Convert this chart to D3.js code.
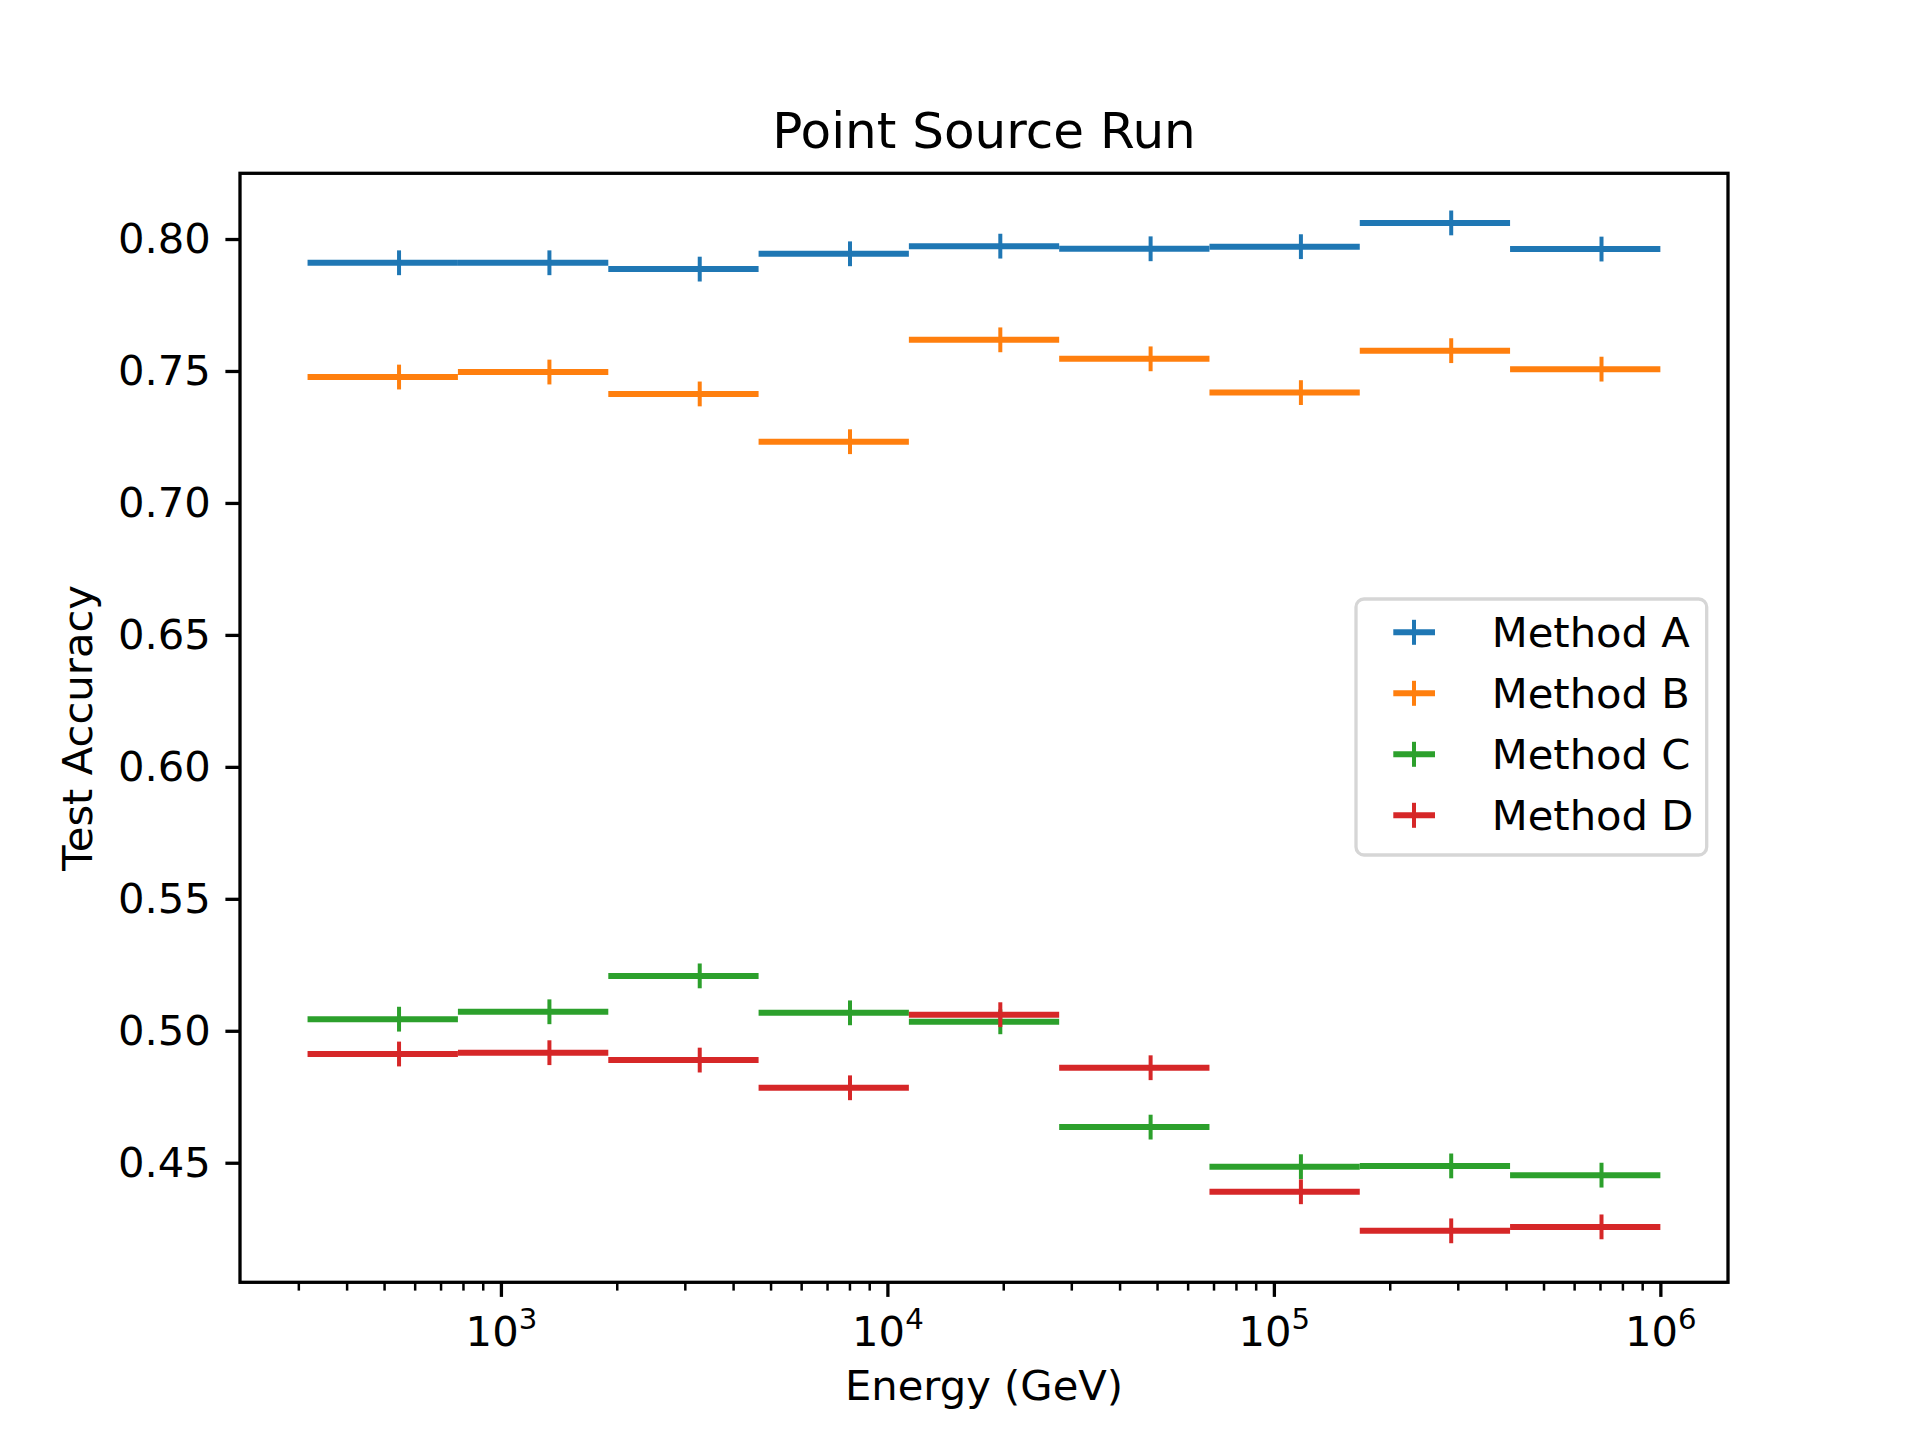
<!DOCTYPE html>
<html>
<head>
<meta charset="utf-8">
<script src="https://cdn.jsdelivr.net/npm/d3@7"></script>
<style>
  body { margin: 0; background: #fff; }
  svg text { font-family: "DejaVu Sans", sans-serif; fill: #000; }
</style>
</head>
<body>
<svg id="chart" width="1920" height="1440"></svg>
<script>
// bin edges along energy (GeV), log spaced
const binEdges = [316, 774, 1896, 4642, 11365, 27826, 68129, 166810, 408424, 1000000];

const methodNames = ["Method A", "Method B", "Method C", "Method D"];
const methodColors = ["#1f77b4", "#ff7f0e", "#2ca02c", "#d62728"];

// test accuracy per bin
const methodA = [0.7910, 0.7910, 0.7886, 0.7944, 0.7973, 0.7963, 0.7971, 0.8061, 0.7962];
const methodB = [0.7477, 0.7496, 0.7413, 0.7232, 0.7618, 0.7546, 0.7418, 0.7577, 0.7507];
const methodC = [0.5044, 0.5072, 0.5208, 0.5068, 0.5034, 0.4635, 0.4485, 0.4488, 0.4453];
const methodD = [0.4912, 0.4917, 0.4889, 0.4784, 0.5061, 0.4860, 0.4390, 0.4242, 0.4257];
const accErr = 0.0047;

const yTickValues = [0.45, 0.50, 0.55, 0.60, 0.65, 0.70, 0.75, 0.80];
const xTickValues = [1e3, 1e4, 1e5, 1e6];

const svg = d3.select("#chart");
const axLeft = 240, axRight = 1728, axTop = 173.3, axBottom = 1282.3;

const x = d3.scaleLog()
  .domain([211.3, 1496236])
  .range([axLeft, axRight]);

const y = d3.scaleLinear()
  .domain([0.4047, 0.8249])
  .range([axBottom, axTop]);

// series
const allSeries = [methodA, methodB, methodC, methodD];
allSeries.forEach((vals, s) => {
  const g = svg.append("g").attr("stroke", methodColors[s]);
  const bins = vals.map((v, i) => ({v: v, lo: binEdges[i], hi: binEdges[i + 1]}));
  g.selectAll("line.h")
    .data(bins)
    .join("line")
      .attr("class", "h")
      .attr("x1", d => x(d.lo))
      .attr("x2", d => x(d.hi))
      .attr("y1", d => y(d.v))
      .attr("y2", d => y(d.v))
      .attr("stroke-width", 6);
  g.selectAll("line.v")
    .data(bins)
    .join("line")
      .attr("class", "v")
      .attr("x1", d => x((d.lo + d.hi) / 2))
      .attr("x2", d => x((d.lo + d.hi) / 2))
      .attr("y1", d => y(d.v - accErr))
      .attr("y2", d => y(d.v + accErr))
      .attr("stroke-width", 4);
});

// minor ticks on x
const minorTicks = x.ticks().filter(t => !xTickValues.includes(t));
svg.append("g")
  .attr("transform", `translate(0,${axBottom})`)
  .selectAll("line")
  .data(minorTicks)
  .join("line")
    .attr("x1", d => x(d)).attr("x2", d => x(d))
    .attr("y1", 0).attr("y2", 8.3)
    .attr("stroke", "#000").attr("stroke-width", 2.5);

// x axis
const gx = svg.append("g")
  .attr("transform", `translate(0,${axBottom})`)
  .call(d3.axisBottom(x)
    .tickValues(xTickValues)
    .tickSize(14.6)
    .tickPadding(16)
    .tickFormat(() => ""));
gx.select(".domain").remove();
gx.selectAll(".tick line").attr("stroke-width", 3.3);
gx.selectAll(".tick text")
  .attr("font-size", 41.7)
  .attr("font-family", "DejaVu Sans")
  .attr("dy", "0.8em")
  .each(function(d) {
    const t = d3.select(this);
    t.text("10");
    t.append("tspan")
      .attr("font-size", "0.7em")
      .attr("dy", "-0.6em")
      .text(Math.round(Math.log10(d)));
  });

// y axis
const gy = svg.append("g")
  .attr("transform", `translate(${axLeft},0)`)
  .call(d3.axisLeft(y)
    .tickValues(yTickValues)
    .tickSize(14.6)
    .tickPadding(14.6)
    .tickFormat(d3.format(".2f")));
gy.select(".domain").remove();
gy.selectAll(".tick line").attr("stroke-width", 3.3);
gy.selectAll(".tick text")
  .attr("font-size", 41.7)
  .attr("font-family", "DejaVu Sans");

// frame
svg.append("rect")
  .attr("x", axLeft).attr("y", axTop)
  .attr("width", axRight - axLeft).attr("height", axBottom - axTop)
  .attr("fill", "none").attr("stroke", "#000").attr("stroke-width", 3.3);

// title and labels
svg.append("text")
  .attr("x", (axLeft + axRight) / 2)
  .attr("y", 148)
  .attr("text-anchor", "middle")
  .attr("font-size", 50)
  .text("Point Source Run");

svg.append("text")
  .attr("x", (axLeft + axRight) / 2)
  .attr("y", 1400)
  .attr("text-anchor", "middle")
  .attr("font-size", 41.7)
  .text("Energy (GeV)");

svg.append("text")
  .attr("transform", "rotate(-90)")
  .attr("x", -(axTop + axBottom) / 2)
  .attr("y", 92)
  .attr("text-anchor", "middle")
  .attr("font-size", 41.7)
  .text("Test Accuracy");

// legend
const legend = svg.append("g").attr("transform", "translate(1356,599)");
legend.append("rect")
  .attr("width", 350.7).attr("height", 256)
  .attr("rx", 8)
  .attr("fill", "#fff").attr("fill-opacity", 0.8)
  .attr("stroke", "#d6d6d6").attr("stroke-width", 3.3);

const rows = legend.selectAll("g.row")
  .data(methodNames)
  .join("g")
    .attr("class", "row")
    .attr("transform", (d, i) => `translate(0,${33.3 + i * 61})`);
rows.append("line")
  .attr("x1", 37.3).attr("x2", 79)
  .attr("y1", 0).attr("y2", 0)
  .attr("stroke", (d, i) => methodColors[i])
  .attr("stroke-width", 6);
rows.append("line")
  .attr("x1", 58).attr("x2", 58)
  .attr("y1", -12.5).attr("y2", 12.5)
  .attr("stroke", (d, i) => methodColors[i])
  .attr("stroke-width", 4);
rows.append("text")
  .attr("x", 135.7)
  .attr("y", 0)
  .attr("dy", "0.36em")
  .attr("font-size", 41.7)
  .text(d => d);
</script>
</body>
</html>
